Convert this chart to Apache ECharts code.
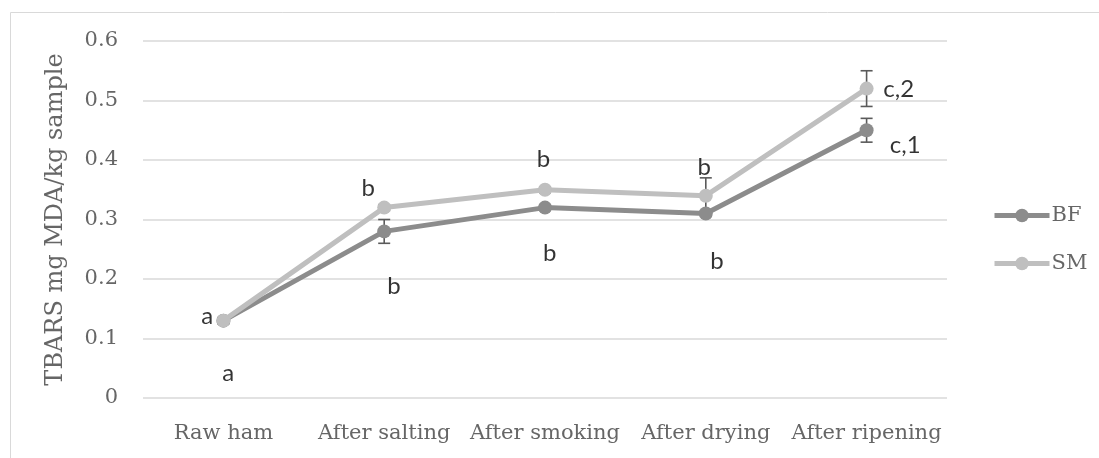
<!DOCTYPE html>
<html><head><meta charset="utf-8">
<script src="https://cdn.jsdelivr.net/npm/echarts@6/dist/echarts.min.js"></script>
<style>html,body{margin:0;padding:0;background:#fff}#c{width:1099px;height:458px}</style>
</head><body><div id="c"></div>
<script>
var categories = ['Raw ham', 'After salting', 'After smoking', 'After drying', 'After ripening'];
var bfValues = [0.13, 0.28, 0.32, 0.31, 0.45];
var smValues = [0.13, 0.32, 0.35, 0.34, 0.52];
var bfErrors = [0.005, 0.02, 0.005, 0.005, 0.02];
var smErrors = [0.005, 0.005, 0.005, 0.03, 0.03];
var yTicks = [0, 0.1, 0.2, 0.3, 0.4, 0.5, 0.6];
// letter annotations: [x position in category units, y value, text]
var letterX = [-0.1, 0.03, 0.9, 1.06, 1.99, 2.03, 2.99, 3.07, 4.2, 4.24];
var letterY = [0.138, 0.042, 0.353, 0.187, 0.402, 0.244, 0.387, 0.229, 0.519, 0.425];
var letterText = ['a', 'a', 'b', 'b', 'b', 'b', 'b', 'b', 'c,2', 'c,1'];

var serif = 'DejaVu Serif';
var textColor = '#666666';
var bfColor = '#8c8c8c', smColor = '#bfbfbf', errColor = '#5a5a5a';

function errData(vals, errs) {
  return vals.map(function (v, i) { return [i, v - errs[i], v + errs[i]]; });
}
function errRender(params, api) {
  var x = api.value(0);
  var lo = api.coord([x, api.value(1)]);
  var hi = api.coord([x, api.value(2)]);
  var w = 6;
  var st = { stroke: errColor, lineWidth: 1.6 };
  return { type: 'group', children: [
    { type: 'line', shape: { x1: lo[0], y1: lo[1], x2: hi[0], y2: hi[1] }, style: st },
    { type: 'line', shape: { x1: lo[0] - w, y1: lo[1], x2: lo[0] + w, y2: lo[1] }, style: st },
    { type: 'line', shape: { x1: hi[0] - w, y1: hi[1], x2: hi[0] + w, y2: hi[1] }, style: st }
  ]};
}
var letterData = letterX.map(function (x, i) { return [x, letterY[i], letterText[i]]; });

var chart = echarts.init(document.getElementById('c'));
chart.setOption({
  animation: false,
  graphic: [{ type: 'rect', shape: { x: 10.5, y: 12.5, width: 1100, height: 460 },
    style: { fill: 'none', stroke: '#d9d9d9', lineWidth: 1 }, silent: true }],
  grid: { left: 143, right: 152, top: 41, bottom: 60 },
  legend: {
    orient: 'vertical', left: 987, top: 200, itemWidth: 55, itemHeight: 17, itemGap: 27,
    lineStyle: { width: 5 },
    textStyle: { fontFamily: serif, fontSize: 21, color: textColor, padding: [0, 0, 0, -3] },
    data: ['BF', 'SM']
  },
  xAxis: [{
    type: 'category', data: categories, boundaryGap: true,
    axisLine: { show: false }, axisTick: { show: false },
    axisLabel: { fontFamily: serif, fontSize: 21, color: textColor, margin: 25, interval: 0 }
  }, {
    type: 'value', min: -0.5, max: 4.5, show: false
  }],
  yAxis: {
    type: 'value', min: 0, max: 0.6, interval: 0.1,
    axisLine: { show: false }, axisTick: { show: false },
    splitLine: { lineStyle: { color: '#d9d9d9', width: 1.5 } },
    axisLabel: { fontFamily: serif, fontSize: 21, color: textColor, margin: 25,
      formatter: function (v) { return String(+v.toFixed(1)); } },
    name: 'TBARS mg MDA/kg sample', nameLocation: 'middle', nameGap: 75,
    nameTextStyle: { fontFamily: serif, fontSize: 24, color: textColor }
  },
  series: [
    { type: 'custom', name: 'errBF', xAxisIndex: 0, renderItem: errRender, data: errData(bfValues, bfErrors), z: 1, encode: { x: 0, y: [1, 2] } },
    { type: 'custom', name: 'errSM', xAxisIndex: 0, renderItem: errRender, data: errData(smValues, smErrors), z: 1, encode: { x: 0, y: [1, 2] } },
    { type: 'line', name: 'BF', data: bfValues, color: bfColor, symbol: 'circle', symbolSize: 14,
      lineStyle: { width: 5, color: bfColor }, itemStyle: { color: bfColor }, z: 3 },
    { type: 'line', name: 'SM', data: smValues, color: smColor, symbol: 'circle', symbolSize: 14,
      lineStyle: { width: 5, color: smColor }, itemStyle: { color: smColor }, z: 4 },
    { type: 'scatter', name: 'letters', xAxisIndex: 1, data: letterData, symbolSize: 0, z: 5,
      label: { show: true, position: 'inside', formatter: function (p) { return p.data[2]; },
        fontFamily: 'Lato', fontSize: 24, color: '#000' } }
  ]
});
</script></body></html>
